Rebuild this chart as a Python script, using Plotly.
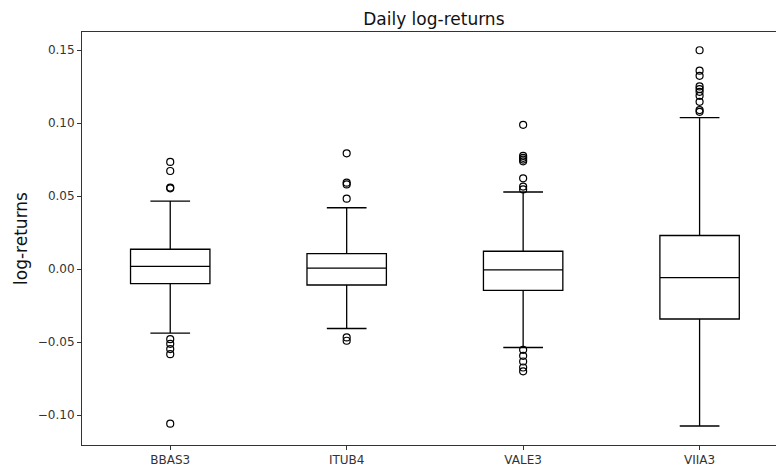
import plotly.graph_objects as go

tickers = ["BBAS3", "ITUB4", "VALE3", "VIIA3"]
positions = [1, 2, 3, 4]
q1 = [-0.0100, -0.0109, -0.0146, -0.0342]
median = [0.0019, 0.0006, -0.0006, -0.0058]
q3 = [0.0136, 0.0106, 0.0122, 0.0230]
lower_whisker = [-0.0438, -0.0407, -0.0537, -0.1075]
upper_whisker = [0.0466, 0.0420, 0.0528, 0.1038]

outliers_bbas3 = [0.0734, 0.0672, 0.0558, 0.0553, -0.0480, -0.0512, -0.0548, -0.0583, -0.1059]
outliers_itub4 = [0.0793, 0.0592, 0.0580, 0.0482, -0.0468, -0.0491]
outliers_vale3 = [0.0988, 0.0775, 0.0762, 0.0750, 0.0738, 0.0622, 0.0565, 0.0546,
                  -0.0553, -0.0594, -0.0633, -0.0674, -0.0700]
outliers_viia3 = [0.1499, 0.1359, 0.1324, 0.1251, 0.1233, 0.1214, 0.1187, 0.1146, 0.1089, 0.1077]
outliers = [outliers_bbas3, outliers_itub4, outliers_vale3, outliers_viia3]

y_tickvals = [-0.10, -0.05, 0.00, 0.05, 0.10, 0.15]
y_ticktext = ["\u22120.10", "\u22120.05", "0.00", "0.05", "0.10", "0.15"]

fig = go.Figure()
fig.add_trace(go.Box(
    x=positions, q1=q1, median=median, q3=q3,
    lowerfence=lower_whisker, upperfence=upper_whisker,
    width=0.45, whiskerwidth=0.5,
    line=dict(color="black", width=1.3),
    fillcolor="rgba(255,255,255,0)",
    boxpoints=False, showlegend=False, hoverinfo="skip",
))

ox, oy = [], []
for p, vals in zip(positions, outliers):
    ox += [p] * len(vals)
    oy += vals
fig.add_trace(go.Scatter(
    x=ox, y=oy, mode="markers",
    marker=dict(symbol="circle-open", size=7, color="black", line=dict(width=1.2)),
    showlegend=False, hoverinfo="skip",
))

fig.update_layout(
    width=776, height=467,
    margin=dict(l=82, r=0, t=32, b=22, autoexpand=False),
    paper_bgcolor="white", plot_bgcolor="white",
    font=dict(family="DejaVu Sans", color="#333", size=12),
    title=dict(text="Daily log-returns", xref="paper", x=0.507, xanchor="center",
               yref="container", y=1 - 25 / 467, yanchor="bottom",
               font=dict(size=17, color="#111")),
    xaxis=dict(
        range=[0.5, 4.433], tickvals=positions, ticktext=tickers,
        showline=True, linecolor="#333", linewidth=1, mirror=True,
        ticks="outside", ticklen=4, tickcolor="#333",
        tickfont=dict(size=12),
        showgrid=False, zeroline=False, fixedrange=True, automargin=False,
    ),
    yaxis=dict(
        range=[-0.1205, 0.1624], tickvals=y_tickvals, ticktext=y_ticktext,
        showline=True, linecolor="#333", linewidth=1, mirror=False,
        ticks="outside", ticklen=4, tickcolor="#333",
        tickfont=dict(size=12),
        showgrid=False, zeroline=False, automargin=False,
        title=dict(text="log-returns", font=dict(size=17, color="#111"), standoff=5),
    ),
)

fig.write_html("out.html", config={"displayModeBar": False},
               post_script="document.body.style.margin='0px';document.body.style.overflow='hidden';")
